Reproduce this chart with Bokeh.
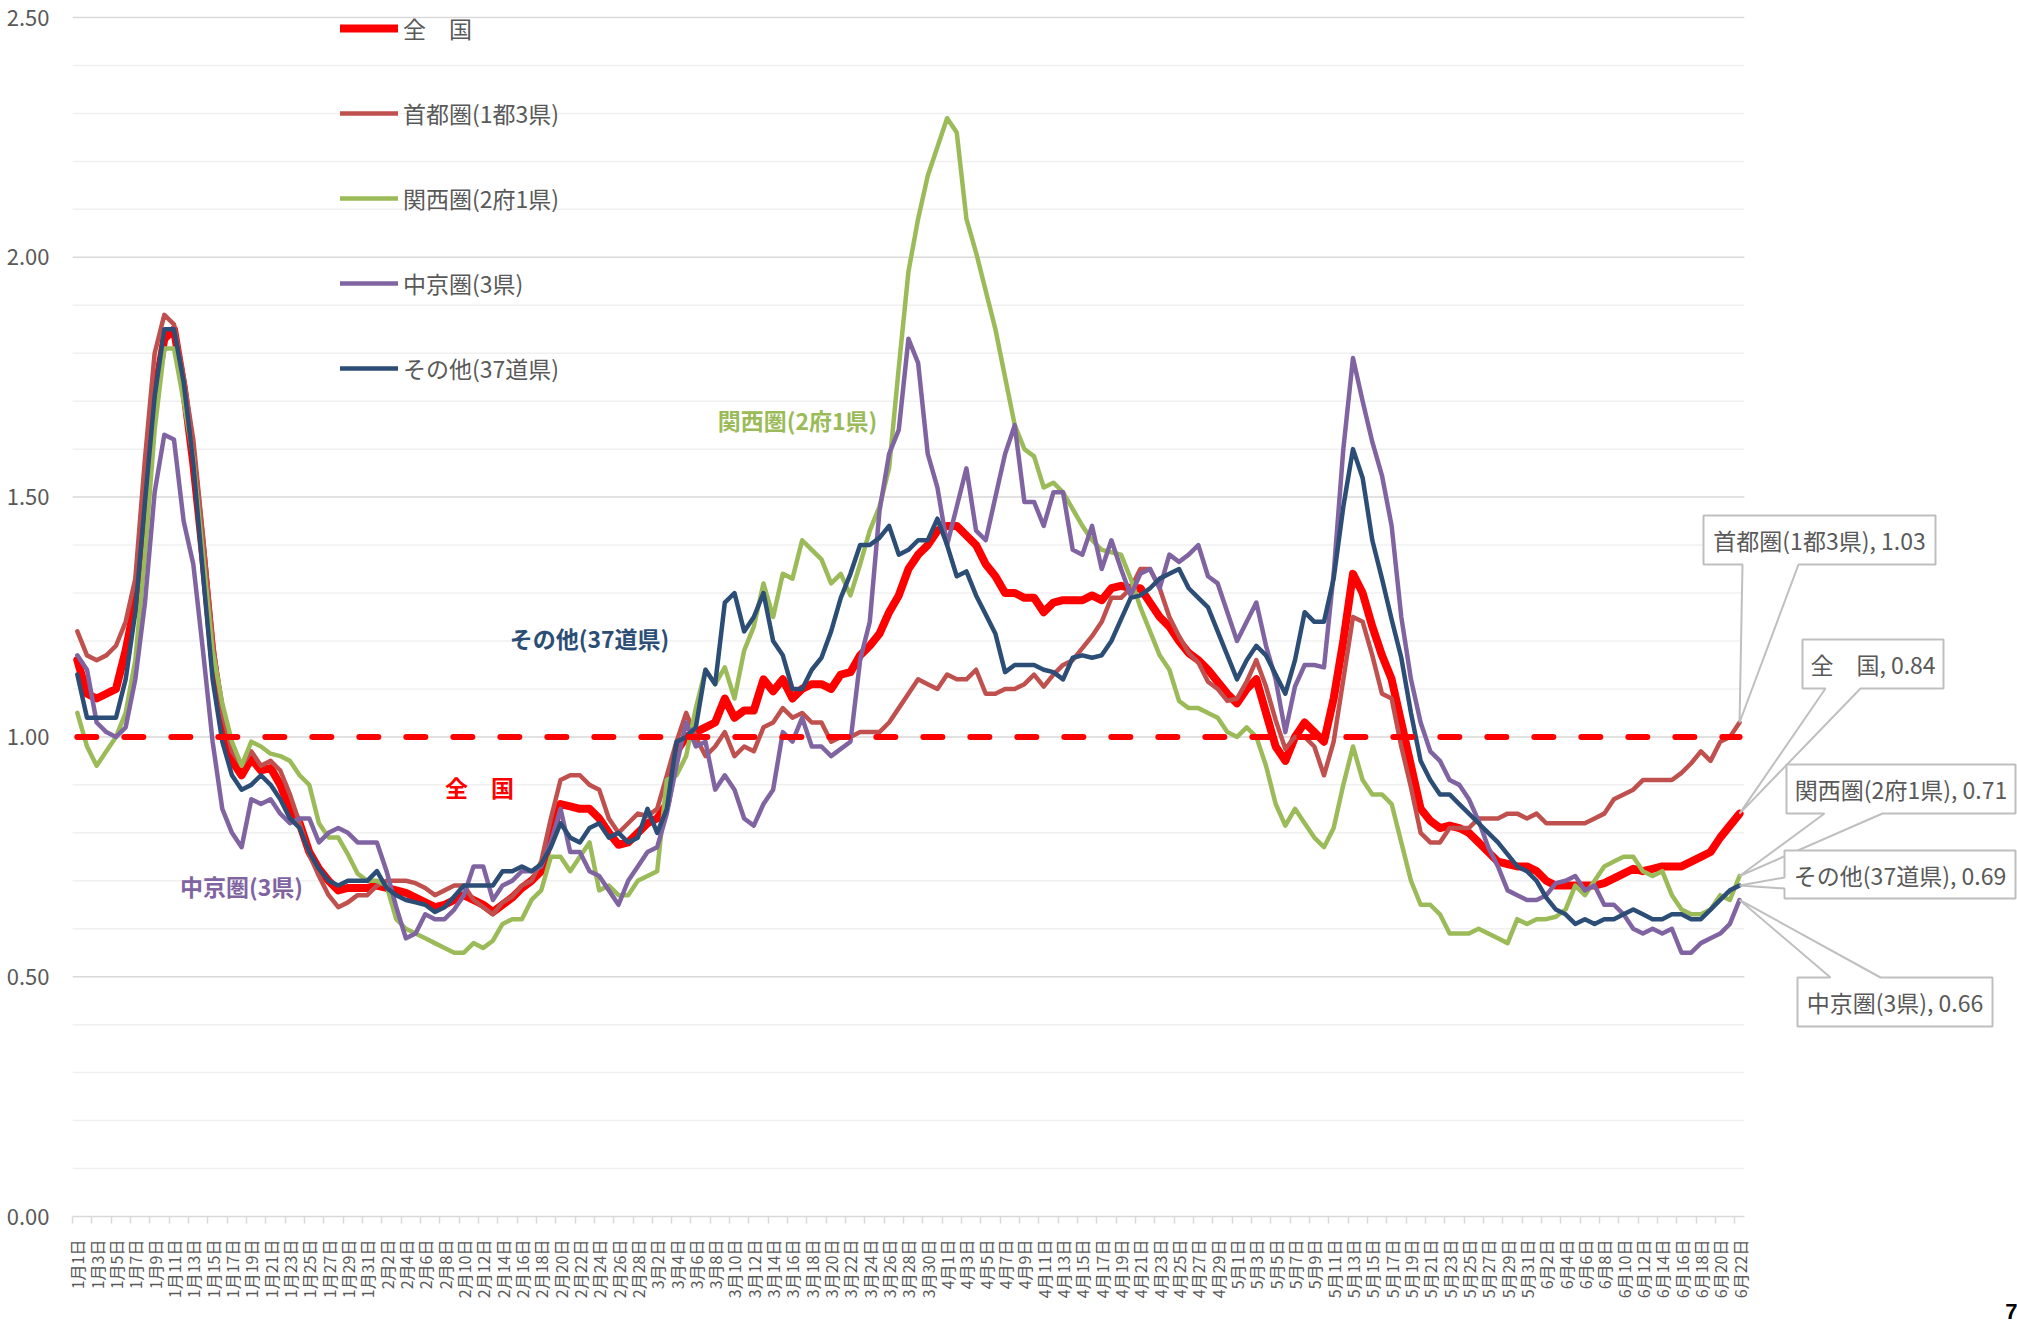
import math
import datetime as dt
from bokeh.plotting import figure
from bokeh.models import Range1d, FixedTicker, Legend, LegendItem, Label, PrintfTickFormatter, Title
from bokeh.embed import file_html
from bokeh.resources import INLINE

# ---------------- data ----------------
start_date = dt.date(2021, 1, 1)
n_days = 173
dates = [start_date + dt.timedelta(days=k) for k in range(n_days)]
date_labels = [f"{d.month}月{d.day}日" for d in dates]
x_idx = list(range(n_days))

zenkoku = [
1.16, 1.09, 1.08, 1.09, 1.10, 1.18, 1.28, 1.49, 1.71, 1.83,
1.85, 1.73, 1.57, 1.38, 1.17, 1.04, 0.95, 0.92, 0.955, 0.93,
0.935, 0.90, 0.85, 0.82, 0.76, 0.725, 0.70, 0.68, 0.685, 0.685,
0.685, 0.69, 0.685, 0.68, 0.675, 0.665, 0.655, 0.645, 0.65, 0.66,
0.67, 0.66, 0.65, 0.635, 0.65, 0.665, 0.685, 0.70, 0.72, 0.79,
0.86, 0.855, 0.85, 0.85, 0.83, 0.80, 0.775, 0.78, 0.80, 0.82,
0.83, 0.86, 0.97, 1.00, 1.01, 1.02, 1.03, 1.08, 1.04, 1.055,
1.055, 1.12, 1.095, 1.12, 1.08, 1.10, 1.11, 1.11, 1.10, 1.13,
1.135, 1.17, 1.19, 1.215, 1.26, 1.295, 1.35, 1.38, 1.40, 1.43,
1.44, 1.44, 1.42, 1.40, 1.36, 1.335, 1.30, 1.30, 1.29, 1.29,
1.26, 1.28, 1.285, 1.285, 1.285, 1.295, 1.285, 1.31, 1.315, 1.31,
1.31, 1.28, 1.25, 1.23, 1.20, 1.175, 1.16, 1.14, 1.115, 1.09,
1.07, 1.10, 1.12, 1.05, 0.98, 0.95, 1.00, 1.03, 1.01, 0.99,
1.08, 1.20, 1.34, 1.30, 1.23, 1.17, 1.12, 1.03, 0.94, 0.85,
0.825, 0.81, 0.815, 0.81, 0.80, 0.78, 0.76, 0.74, 0.735, 0.73,
0.73, 0.72, 0.70, 0.69, 0.69, 0.69, 0.69, 0.69, 0.695, 0.705,
0.715, 0.725, 0.72, 0.725, 0.73, 0.73, 0.73, 0.74, 0.75, 0.76,
0.79, 0.815, 0.84]

shuto = [
1.22, 1.17, 1.16, 1.17, 1.19, 1.24, 1.33, 1.58, 1.80, 1.88,
1.86, 1.75, 1.62, 1.42, 1.20, 1.05, 0.97, 0.94, 0.97, 0.94,
0.95, 0.93, 0.88, 0.82, 0.755, 0.71, 0.67, 0.645, 0.655, 0.67,
0.67, 0.69, 0.70, 0.70, 0.70, 0.695, 0.685, 0.67, 0.68, 0.69,
0.69, 0.66, 0.645, 0.63, 0.655, 0.667, 0.69, 0.70, 0.74, 0.83,
0.91, 0.92, 0.92, 0.90, 0.89, 0.83, 0.80, 0.82, 0.84, 0.835,
0.85, 0.92, 0.99, 1.05, 1.00, 0.96, 0.98, 1.01, 0.96, 0.98,
0.97, 1.02, 1.03, 1.06, 1.04, 1.05, 1.03, 1.03, 0.99, 1.00,
1.00, 1.01, 1.01, 1.01, 1.03, 1.06, 1.09, 1.12, 1.11, 1.10,
1.13, 1.12, 1.12, 1.14, 1.09, 1.09, 1.10, 1.10, 1.11, 1.13,
1.105, 1.13, 1.15, 1.16, 1.185, 1.21, 1.24, 1.29, 1.29, 1.31,
1.35, 1.35, 1.31, 1.25, 1.21, 1.175, 1.155, 1.115, 1.10, 1.075,
1.08, 1.115, 1.16, 1.105, 1.035, 0.975, 1.00, 1.00, 0.98, 0.92,
0.99, 1.12, 1.25, 1.24, 1.17, 1.09, 1.08, 0.98, 0.895, 0.80,
0.78, 0.78, 0.81, 0.81, 0.81, 0.83, 0.83, 0.83, 0.84, 0.84,
0.83, 0.84, 0.82, 0.82, 0.82, 0.82, 0.82, 0.83, 0.84, 0.87,
0.88, 0.89, 0.91, 0.91, 0.91, 0.91, 0.925, 0.945, 0.97, 0.95,
0.99, 1.00, 1.03]

kansai = [
1.05, 0.98, 0.94, 0.97, 1.00, 1.05, 1.16, 1.38, 1.64, 1.81,
1.81, 1.70, 1.58, 1.38, 1.18, 1.07, 0.99, 0.94, 0.99, 0.98,
0.965, 0.96, 0.95, 0.92, 0.90, 0.82, 0.79, 0.79, 0.755, 0.715,
0.70, 0.70, 0.69, 0.62, 0.60, 0.59, 0.58, 0.57, 0.56, 0.55,
0.55, 0.57, 0.56, 0.575, 0.61, 0.62, 0.62, 0.66, 0.68, 0.75,
0.75, 0.72, 0.75, 0.78, 0.68, 0.69, 0.67, 0.67, 0.70, 0.71,
0.72, 0.91, 0.92, 0.96, 1.06, 1.14, 1.11, 1.145, 1.08, 1.18,
1.23, 1.32, 1.25, 1.34, 1.33, 1.41, 1.39, 1.37, 1.32, 1.34,
1.295, 1.36, 1.43, 1.48, 1.56, 1.77, 1.97, 2.08, 2.17, 2.23,
2.29, 2.26, 2.08, 2.01, 1.93, 1.85, 1.75, 1.65, 1.60, 1.585,
1.52, 1.53, 1.51, 1.475, 1.44, 1.41, 1.39, 1.385, 1.38, 1.33,
1.27, 1.22, 1.17, 1.14, 1.075, 1.06, 1.06, 1.05, 1.04, 1.01,
1.00, 1.02, 1.00, 0.94, 0.86, 0.815, 0.85, 0.82, 0.79, 0.77,
0.81, 0.90, 0.98, 0.91, 0.88, 0.88, 0.86, 0.78, 0.70, 0.65,
0.65, 0.63, 0.59, 0.59, 0.59, 0.60, 0.59, 0.58, 0.57, 0.62,
0.61, 0.62, 0.62, 0.625, 0.64, 0.69, 0.67, 0.70, 0.73, 0.74,
0.75, 0.75, 0.72, 0.71, 0.72, 0.67, 0.64, 0.63, 0.63, 0.64,
0.67, 0.66, 0.71]

chukyo = [
1.17, 1.14, 1.03, 1.01, 1.00, 1.02, 1.12, 1.28, 1.51, 1.63,
1.62, 1.45, 1.36, 1.18, 0.99, 0.85, 0.80, 0.77, 0.87, 0.86,
0.87, 0.84, 0.82, 0.83, 0.83, 0.78, 0.80, 0.81, 0.80, 0.78,
0.78, 0.78, 0.72, 0.645, 0.58, 0.59, 0.63, 0.62, 0.62, 0.64,
0.67, 0.73, 0.73, 0.66, 0.69, 0.70, 0.72, 0.72, 0.73, 0.78,
0.85, 0.76, 0.76, 0.72, 0.71, 0.68, 0.65, 0.70, 0.73, 0.76,
0.77, 0.84, 0.94, 1.03, 0.98, 0.99, 0.89, 0.92, 0.89, 0.83,
0.815, 0.86, 0.89, 1.01, 0.99, 1.04, 0.98, 0.98, 0.96, 0.975,
0.99, 1.16, 1.24, 1.47, 1.59, 1.64, 1.83, 1.78, 1.59, 1.52,
1.40, 1.48, 1.56, 1.43, 1.41, 1.50, 1.59, 1.65, 1.49, 1.49,
1.44, 1.51, 1.51, 1.39, 1.38, 1.44, 1.35, 1.41, 1.35, 1.295,
1.34, 1.35, 1.31, 1.38, 1.365, 1.38, 1.40, 1.335, 1.32, 1.26,
1.20, 1.24, 1.28, 1.19, 1.12, 1.01, 1.105, 1.15, 1.15, 1.145,
1.34, 1.60, 1.79, 1.70, 1.615, 1.545, 1.44, 1.25, 1.12, 1.03,
0.97, 0.95, 0.91, 0.90, 0.87, 0.825, 0.77, 0.73, 0.68, 0.67,
0.66, 0.66, 0.67, 0.695, 0.70, 0.71, 0.68, 0.69, 0.65, 0.65,
0.63, 0.60, 0.59, 0.60, 0.59, 0.60, 0.55, 0.55, 0.57, 0.58,
0.59, 0.61, 0.66]

other = [
1.13, 1.04, 1.04, 1.04, 1.04, 1.12, 1.26, 1.49, 1.71, 1.85,
1.85, 1.74, 1.57, 1.34, 1.12, 0.99, 0.92, 0.89, 0.90, 0.92,
0.90, 0.87, 0.83, 0.81, 0.76, 0.725, 0.70, 0.69, 0.70, 0.70,
0.70, 0.72, 0.685, 0.67, 0.66, 0.655, 0.65, 0.635, 0.645, 0.667,
0.69, 0.69, 0.69, 0.69, 0.72, 0.72, 0.73, 0.72, 0.735, 0.77,
0.82, 0.79, 0.78, 0.81, 0.82, 0.79, 0.80, 0.78, 0.79, 0.85,
0.80, 0.85, 0.99, 1.00, 1.02, 1.14, 1.11, 1.28, 1.30, 1.22,
1.25, 1.30, 1.20, 1.17, 1.10, 1.10, 1.14, 1.165, 1.22, 1.29,
1.34, 1.40, 1.40, 1.415, 1.44, 1.38, 1.39, 1.41, 1.41, 1.455,
1.40, 1.335, 1.345, 1.295, 1.255, 1.215, 1.135, 1.15, 1.15, 1.15,
1.14, 1.135, 1.12, 1.165, 1.17, 1.165, 1.17, 1.20, 1.245, 1.29,
1.295, 1.31, 1.33, 1.34, 1.35, 1.31, 1.29, 1.27, 1.22, 1.17,
1.12, 1.16, 1.19, 1.17, 1.13, 1.09, 1.16, 1.26, 1.24, 1.24,
1.33, 1.48, 1.60, 1.54, 1.41, 1.33, 1.245, 1.165, 1.05, 0.95,
0.91, 0.88, 0.88, 0.86, 0.84, 0.82, 0.80, 0.78, 0.755, 0.73,
0.72, 0.70, 0.665, 0.64, 0.63, 0.61, 0.62, 0.61, 0.62, 0.62,
0.63, 0.64, 0.63, 0.62, 0.62, 0.63, 0.63, 0.62, 0.62, 0.64,
0.66, 0.68, 0.69]

threshold = 1.0
y_major = [0.0, 0.5, 1.0, 1.5, 2.0, 2.5]
y_minor = [0.1, 0.2, 0.3, 0.4, 0.6, 0.7, 0.8, 0.9, 1.1, 1.2, 1.3, 1.4,
           1.6, 1.7, 1.8, 1.9, 2.1, 2.2, 2.3, 2.4]

series = [
    ("全　国", zenkoku, "#FF0000", 8),
    ("首都圏(1都3県)", shuto, "#C0504D", 4.5),
    ("関西圏(2府1県)", kansai, "#9BBB59", 4.5),
    ("中京圏(3県)", chukyo, "#8064A2", 4.5),
    ("その他(37道県)", other, "#2C4D75", 4.5),
]

# ---------------- layout ----------------
FONT = "Noto Sans CJK JP"
GRAY = "#595959"
W, H = 2017, 1325
LEFT, TOP = 72, 5            # frame starts a little above the 2.50 gridline
PLOT_BOTTOM = 1216           # canvas y of value 0
PX_UNIT = 479.6              # pixels per 1.0
FRAME_W, FRAME_H = W - LEFT, PLOT_BOTTOM - TOP
BOTTOM = H - TOP - FRAME_H
PX_DAY = 9.664
X0 = -0.5
X1 = X0 + FRAME_W / PX_DAY
Y1 = FRAME_H / PX_UNIT


def dx(px):  # canvas px -> data x
    return X0 + (px - LEFT) / PX_DAY


def dy(py):  # canvas px -> data y
    return (PLOT_BOTTOM - py) / PX_UNIT


def px_x(v):
    return LEFT + (v - X0) * PX_DAY


def px_y(v):
    return PLOT_BOTTOM - v * PX_UNIT


p = figure(frame_width=FRAME_W, frame_height=FRAME_H,
           x_range=Range1d(X0, X1), y_range=Range1d(0, Y1),
           output_backend="svg", toolbar_location=None, title_location=None,
           min_border_left=LEFT, min_border_right=0, min_border_top=TOP,
           min_border_bottom=BOTTOM, outline_line_color=None,
           background_fill_color="white", border_fill_color="white")

p.xgrid.visible = False
p.ygrid.visible = False

# gridlines restricted to the category span
x_lo, x_hi = -0.5, n_days - 0.5
p.segment(x0=x_lo, x1=x_hi, y0=y_minor, y1=y_minor, line_color="#F0F0F0", line_width=1.5)
p.segment(x0=x_lo, x1=x_hi, y0=y_major[1:], y1=y_major[1:], line_color="#D9D9D9", line_width=1.5)

# x axis
lab_ticks = list(range(0, n_days, 2))
p.xaxis.ticker = FixedTicker(ticks=lab_ticks, minor_ticks=[t - 0.5 for t in lab_ticks])
p.xaxis.bounds = (x_lo, x_hi)
p.xaxis.axis_line_color = "#D9D9D9"
p.xaxis.axis_line_width = 1.5
p.xaxis.major_tick_line_color = None
p.xaxis.major_tick_out = 0
p.xaxis.major_tick_in = 0
p.xaxis.minor_tick_line_color = "#D9D9D9"
p.xaxis.minor_tick_line_width = 1.5
p.xaxis.minor_tick_out = 7
p.xaxis.minor_tick_in = 0
p.xaxis.major_label_overrides = {t: date_labels[t] for t in lab_ticks}
p.xaxis.major_label_orientation = math.pi / 2
p.xaxis.major_label_text_font = FONT
p.xaxis.major_label_text_font_size = "16px"
p.xaxis.major_label_text_color = GRAY
p.xaxis.major_label_standoff = 16

# y axis
p.yaxis.ticker = FixedTicker(ticks=y_major)
p.yaxis.formatter = PrintfTickFormatter(format="%.2f")
p.yaxis.axis_line_color = None
p.yaxis.major_tick_line_color = None
p.yaxis.minor_tick_line_color = None
p.yaxis.major_tick_out = 0
p.yaxis.major_tick_in = 0
p.yaxis.major_label_standoff = 23
p.yaxis.major_label_text_font = FONT
p.yaxis.major_label_text_font_size = "22px"
p.yaxis.major_label_text_color = GRAY

# series
renderers = []
for name, vals, color, width in series:
    r = p.line(x=x_idx, y=vals, line_color=color, line_width=width,
               line_join="round", line_cap="round")
    renderers.append((name, r))

# 1.0 reference line
p.line(x=[x_idx[0], x_idx[-1]], y=[threshold, threshold], line_color="#FF0000",
       line_width=6, line_dash="19 28", line_cap="round")

# legend
ITEM_H, GAP = 34, 51
n_items = len(renderers)
legend_h = n_items * ITEM_H + (n_items - 1) * GAP
legend_top_in_frame = 6  # px below frame top
legend = Legend(items=[LegendItem(label=nm, renderers=[r]) for nm, r in renderers],
                location=(268, FRAME_H - legend_top_in_frame - legend_h),
                orientation="vertical",
                glyph_width=58, glyph_height=ITEM_H, label_height=ITEM_H, spacing=GAP,
                padding=0, margin=0, label_standoff=5,
                label_text_font=FONT, label_text_font_size="23px",
                label_text_color=GRAY, border_line_color=None,
                background_fill_alpha=0)
p.add_layout(legend)

# in-plot series name labels (canvas pixel centres)
name_labels = [
    ("関西圏(2府1県)", "#9BBB59", 797, 419),
    ("その他(37道県)", "#2C4D75", 589, 637),
    ("全　国", "#FF0000", 479, 786),
    ("中京圏(3県)", "#8064A2", 241, 885),
]
for txt, col, cx, cy in name_labels:
    p.add_layout(Label(x=dx(cx), y=dy(cy), text=txt, text_color=col,
                       text_font=FONT, text_font_size="23px", text_font_style="bold",
                       text_align="center", text_baseline="middle"))

# callouts for the last values (box in canvas px, wedge side & extent)
last = n_days - 1
callouts = [
    ("首都圏(1都3県)", shuto[last], (1703, 515, 1935, 564), ("bottom", 1742, 1798)),
    ("全　国", zenkoku[last], (1802, 639, 1943, 688), ("bottom", 1825, 1860)),
    ("関西圏(2府1県)", kansai[last], (1786, 764, 2015, 813), ("bottom", 1824, 1882)),
    ("その他(37道県)", other[last], (1784, 850, 2015, 898), ("left", 877, 888)),
    ("中京圏(3県)", chukyo[last], (1797, 977, 1992, 1026), ("top", 1830, 1880)),
]
for nm, val, (bx0, by0, bx1, by1), (side, w0, w1) in callouts:
    tx, ty = px_x(last), px_y(val)
    if side == "bottom":
        pts = [(bx0, by0), (bx1, by0), (bx1, by1), (w1, by1), (tx, ty), (w0, by1), (bx0, by1)]
    elif side == "top":
        pts = [(bx0, by0), (w0, by0), (tx, ty), (w1, by0), (bx1, by0), (bx1, by1), (bx0, by1)]
    else:
        pts = [(bx0, by0), (bx1, by0), (bx1, by1), (bx0, by1), (bx0, w1), (tx, ty), (bx0, w0)]
    p.patch(x=[dx(a) for a, b in pts], y=[dy(b) for a, b in pts],
            fill_color="white", line_color="#BFBFBF", line_width=2)
    p.add_layout(Label(x=dx((bx0 + bx1) / 2), y=dy((by0 + by1) / 2),
                       text=f"{nm}, {val:.2f}", text_color=GRAY, text_font=FONT,
                       text_font_size="23px", text_align="center", text_baseline="middle"))

# page number at the bottom-right corner, placed in the panel below the axis
p.add_layout(Title(text="7", align="right", text_color="#000000",
                   text_font="Liberation Sans", text_font_size="22px",
                   text_font_style="bold", standoff=0, offset=0), "below")

open("out.html", "w").write(file_html(p, INLINE))
